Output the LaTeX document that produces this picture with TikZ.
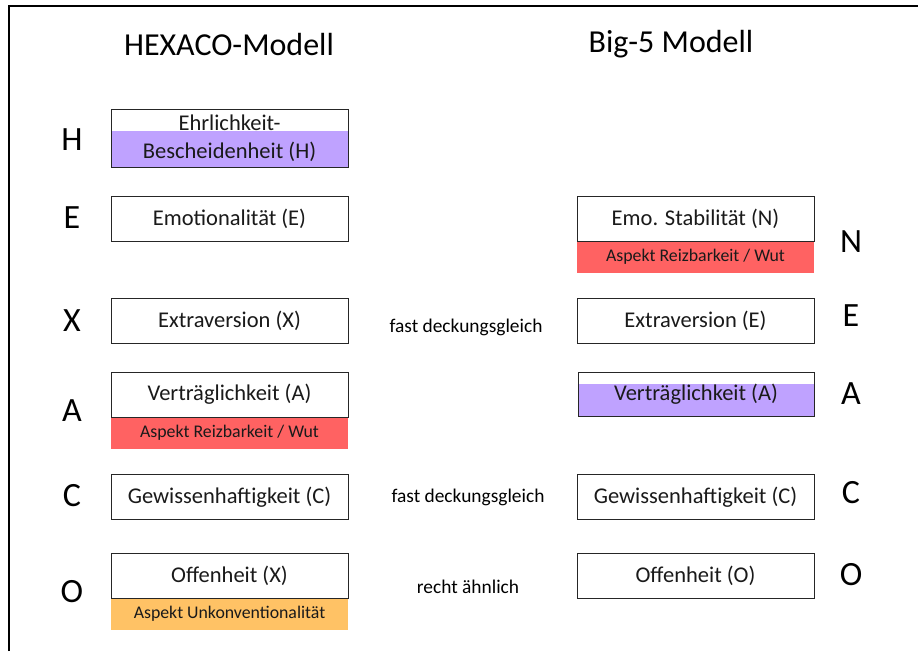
\documentclass[tikz,border=0pt]{standalone}
\usepackage{fontspec}
\setmainfont{Carlito}
\definecolor{purp}{HTML}{BFA2FF}
\definecolor{redst}{HTML}{FF6262}
\definecolor{orst}{HTML}{FFC265}
\definecolor{txt}{HTML}{1A1A1A}
\begin{document}
\begin{tikzpicture}[x=1pt,y=-1pt,
  box/.style={draw=black!85, line width=0.9pt, minimum width=237pt, minimum height=45pt, inner sep=0pt, text=txt, font=\fontsize{22.5}{28}\selectfont, align=center},
  strip/.style={minimum width=237pt, minimum height=31pt, inner sep=0pt, text=txt, font=\fontsize{17.8}{20}\selectfont},
  letter/.style={text=black, font=\fontsize{34}{36}\selectfont, inner sep=0pt},
  title/.style={text=black, font=\fontsize{32}{34}\selectfont, inner sep=0pt},
  mid/.style={text=black, font=\fontsize{19.4}{22}\selectfont, inner sep=0pt}]
\useasboundingbox (0,0) rectangle (918,651);
\fill[white] (0,0) rectangle (918,651);
\draw[line width=1.4pt] (9,651) -- (9,6) -- (918,6);
% titles
\node[title] (t1) at (229,44) {HEXACO-Modell};
\node[title] (t2) at (671,44) {Big-5 Modell};
% left letters
\node[letter] (LH) at (72,140) {H};
\node[letter] (LE) at (72,218) {E};
\node[letter] (LX) at (72,321) {X};
\node[letter] (LA) at (72,411) {A};
\node[letter] (LC) at (72,496) {C};
\node[letter] (LO) at (72,592) {O};
% right letters
\node[letter] (RN) at (851,242) {N};
\node[letter] (RE) at (851,316) {E};
\node[letter] (RA) at (851,394) {A};
\node[letter] (RC) at (851,493) {C};
\node[letter] (RO) at (851,575) {O};
% left column
\node[strip, fill=purp, minimum height=36pt] (hfill) at (229.5,149) {};
\node[box, minimum height=58pt] (bH) at (229.5,138) {Ehrlichkeit-\\Bescheidenheit (H)};
\node[box] (bE) at (229.5,218.5) {Emotionalität (E)};
\node[box] (bX) at (229.5,320.5) {Extraversion (X)};
\node[strip, fill=redst] (sA) at (229.5,433) {Aspekt Reizbarkeit / Wut};
\node[box] (bA) at (229.5,394.5) {Verträglichkeit (A)};
\node[box] (bC) at (229.5,497) {Gewissenhaftigkeit (C)};
\node[strip, fill=orst] (sO) at (229.5,614) {Aspekt Unkonventionalität};
\node[box] (bO) at (229.5,575.5) {Offenheit (X)};
% right column
\node[strip, fill=redst] (sN) at (695.5,257) {Aspekt Reizbarkeit / Wut};
\node[box] (bN) at (695.5,219) {Emo. Stabilität (N)};
\node[box] (bE2) at (695.5,320.5) {Extraversion (E)};
\node[strip, fill=purp, minimum width=236pt, minimum height=32pt] (afill) at (696,400) {};
\node[box, minimum width=236pt, minimum height=44pt] (bA2) at (696,394) {Verträglichkeit (A)};
\node[box] (bC2) at (695.5,497) {Gewissenhaftigkeit (C)};
\node[box] (bO2) at (695.5,575.5) {Offenheit (O)};
% middle labels
\node[mid] (m1) at (466,327) {fast deckungsgleich};
\node[mid] (m2) at (468,497) {fast deckungsgleich};
\node[mid] (m3) at (468,587) {recht ähnlich};
\end{tikzpicture}
\end{document}
